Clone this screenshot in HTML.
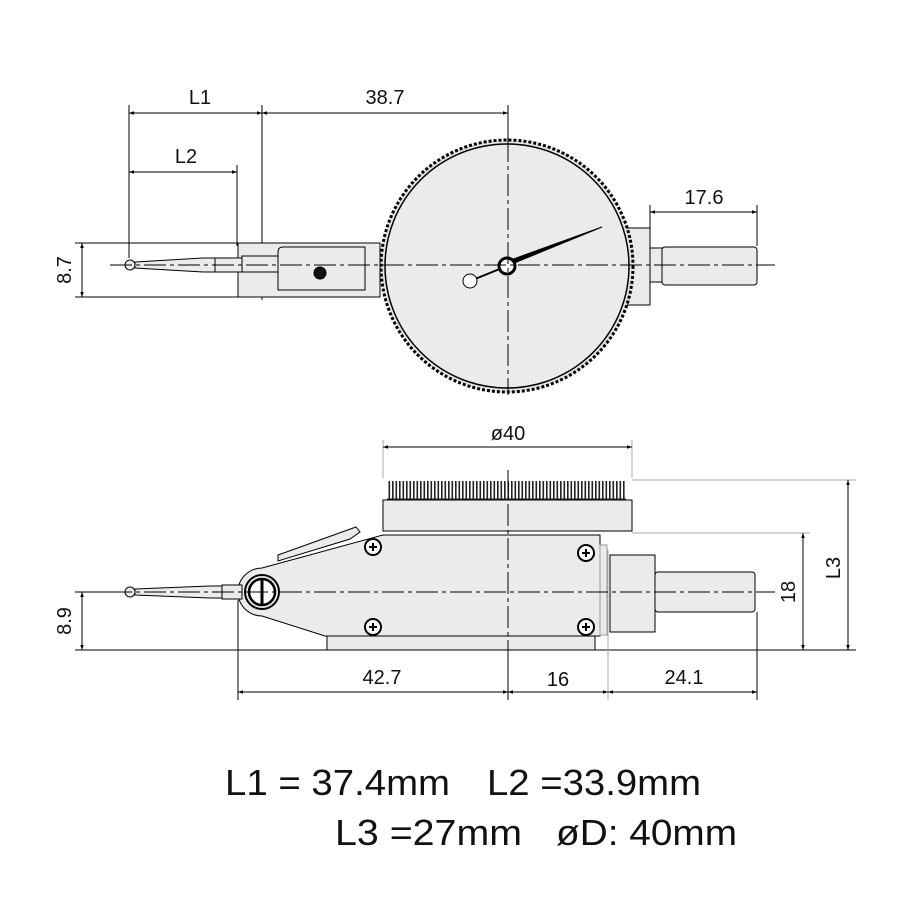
<!DOCTYPE html>
<html><head><meta charset="utf-8"><style>body{margin:0;background:#fff}svg{display:block}</style></head><body>
<svg width="900" height="900" viewBox="0 0 900 900" xmlns="http://www.w3.org/2000/svg" font-family="Liberation Sans, sans-serif">
<defs>
<marker id="a" viewBox="0 0 10 10" refX="10" refY="5" markerWidth="10" markerHeight="5" orient="auto-start-reverse" markerUnits="userSpaceOnUse"><path d="M0,1.5 L10,5 L0,8.5z" fill="#000"/></marker>
<pattern id="k" width="3.5" height="20" patternUnits="userSpaceOnUse"><rect x="0" y="0" width="1.6" height="20" fill="#222"/></pattern>
</defs>
<g fill="none" stroke="#000" stroke-width="1">
<line x1="129" y1="105" x2="129" y2="258"/>
<line x1="262" y1="105" x2="262" y2="300"/>
<line x1="508" y1="105" x2="508" y2="140"/>
<line x1="237" y1="165" x2="237" y2="246"/>
<line x1="650" y1="205" x2="650" y2="228"/>
<line x1="757" y1="205" x2="757" y2="246"/>
<line x1="75" y1="243" x2="238" y2="243"/>
<line x1="75" y1="297" x2="238" y2="297"/>
<line x1="129" y1="113" x2="262" y2="113" marker-start="url(#a)" marker-end="url(#a)"/>
<line x1="262" y1="113" x2="508" y2="113" marker-start="url(#a)" marker-end="url(#a)"/>
<line x1="129" y1="172" x2="237" y2="172" marker-start="url(#a)" marker-end="url(#a)"/>
<line x1="650" y1="212" x2="757" y2="212" marker-start="url(#a)" marker-end="url(#a)"/>
<line x1="82" y1="243" x2="82" y2="297" marker-start="url(#a)" marker-end="url(#a)"/>
<rect x="238" y="243" width="142" height="54" fill="#ebebeb"/>
<path d="M278 290 V252 q0-5 5-5 H365 V290 z" fill="#ebebeb"/>
<rect x="242" y="256" width="36" height="16" fill="#ebebeb"/>
<circle cx="320" cy="273" r="6" fill="#111"/>
<path d="M135 262 L203 258 H215 V272 H203 L135 268z" fill="#ebebeb"/>
<rect x="215" y="258" width="27" height="14" fill="#ebebeb"/>
<circle cx="130" cy="265" r="5" fill="#ebebeb"/>
<rect x="627" y="228" width="23" height="77" fill="#ebebeb"/>
<rect x="650" y="248" width="13" height="34" fill="#ebebeb"/>
<rect x="662" y="247" width="95" height="38" rx="3" fill="#ebebeb"/>
<circle cx="507" cy="266" r="126" fill="#e6e6e6" stroke-width="3" stroke-dasharray="3 2"/>
<circle cx="507" cy="266" r="122" fill="#ebebeb" stroke-width="1.5"/>
<path d="M507 266 L602 227 L505 262z" fill="#000"/>
<line x1="507" y1="266" x2="475" y2="279" stroke-width="2"/>
<circle cx="470" cy="281" r="7" fill="#fff"/>
<circle cx="507" cy="266" r="8" stroke-width="3" fill="#fff"/>
<line x1="110" y1="265" x2="775" y2="265" stroke-dasharray="22 4 4 4"/>
<line x1="508" y1="140" x2="508" y2="395" stroke-dasharray="22 4 4 4"/>

<line x1="383" y1="440" x2="383" y2="478" stroke="#aaa"/>
<line x1="632" y1="440" x2="632" y2="478" stroke="#aaa"/>
<line x1="383" y1="447" x2="632" y2="447" marker-start="url(#a)" marker-end="url(#a)"/>
<line x1="632" y1="480" x2="856" y2="480" stroke="#aaa"/>
<line x1="632" y1="533" x2="810" y2="533" stroke="#aaa"/>
<line x1="848" y1="480" x2="848" y2="650" marker-start="url(#a)" marker-end="url(#a)"/>
<line x1="803" y1="533" x2="803" y2="650" marker-start="url(#a)" marker-end="url(#a)"/>
<line x1="75" y1="650" x2="856" y2="650"/>
<line x1="75" y1="592" x2="120" y2="592"/>
<line x1="82" y1="592" x2="82" y2="650" marker-start="url(#a)" marker-end="url(#a)"/>
<line x1="238" y1="600" x2="238" y2="700"/>
<line x1="508" y1="640" x2="508" y2="700"/>
<line x1="608" y1="550" x2="608" y2="700" stroke="#aaa"/>
<line x1="757" y1="612" x2="757" y2="700"/>
<line x1="238" y1="692" x2="508" y2="692" marker-start="url(#a)" marker-end="url(#a)"/>
<line x1="508" y1="692" x2="608" y2="692" marker-start="url(#a)" marker-end="url(#a)"/>
<line x1="608" y1="692" x2="757" y2="692" marker-start="url(#a)" marker-end="url(#a)"/>
<rect x="387" y="481" width="239" height="18" fill="url(#k)" stroke="none"/>
<line x1="387" y1="499" x2="626" y2="499" stroke="#222" stroke-width="1"/>
<rect x="383" y="500" width="249" height="31" fill="#ebebeb"/>
<rect x="327" y="636" width="268" height="14" fill="#ebebeb"/>
<path d="M262 568 L383 535 H600 V636 H325 L262 616 A24 24 0 0 1 262 568z" fill="#ebebeb"/>
<path d="M278 555 V561 L350 539 L360 532 L356 527z" fill="#ebebeb"/>
<circle cx="262" cy="592" r="17" stroke-width="2"/>
<circle cx="262" cy="592" r="13" stroke-width="2.5" fill="#fff"/>
<line x1="262" y1="578" x2="262" y2="606" stroke-width="3"/>
<g stroke-width="2" fill="#fff">
<circle cx="373" cy="547" r="8"/><circle cx="373" cy="627" r="8"/>
<circle cx="586" cy="553" r="8"/><circle cx="586" cy="627" r="8"/>
</g>
<path d="M369 547h8M373 543v8M369 627h8M373 623v8M582 553h8M586 549v8M582 627h8M586 623v8" stroke-width="2"/>
<rect x="600" y="545" width="7" height="90" fill="#ebebeb" stroke="#999"/>
<rect x="610" y="555" width="45" height="77" fill="#ebebeb"/>
<rect x="655" y="572" width="100" height="40" rx="3" fill="#ebebeb"/>
<path d="M135 589 L210 586 H222 V598 H210 L135 595z" fill="#ebebeb"/>
<rect x="222" y="585" width="20" height="14" fill="#ebebeb"/>
<circle cx="130" cy="592" r="5" fill="#ebebeb"/>
<line x1="110" y1="592" x2="775" y2="592" stroke-dasharray="22 4 4 4"/>
<line x1="508" y1="470" x2="508" y2="660" stroke-dasharray="22 4 4 4"/>
</g>
<g font-size="20" text-anchor="middle" fill="#111">
<text x="200" y="104">L1</text>
<text x="385" y="104">38.7</text>
<text x="186" y="163">L2</text>
<text x="704" y="204">17.6</text>
<text x="508" y="440">ø40</text>
<text x="382" y="684">42.7</text>
<text x="558" y="686">16</text>
<text x="684" y="684">24.1</text>
<text transform="translate(71,270) rotate(-90)">8.7</text>
<text transform="translate(71,621) rotate(-90)">8.9</text>
<text transform="translate(795,592) rotate(-90)">18</text>
<text transform="translate(840,568) rotate(-90)">L3</text>
</g>
<g font-size="36" fill="#111">
<text x="225" y="795" textLength="225" lengthAdjust="spacingAndGlyphs">L1 = 37.4mm</text>
<text x="487" y="795" textLength="214" lengthAdjust="spacingAndGlyphs">L2 =33.9mm</text>
<text x="335" y="845" textLength="187" lengthAdjust="spacingAndGlyphs">L3 =27mm</text>
<text x="556" y="845" textLength="181" lengthAdjust="spacingAndGlyphs">øD: 40mm</text>
</g>
</svg>
</body></html>
